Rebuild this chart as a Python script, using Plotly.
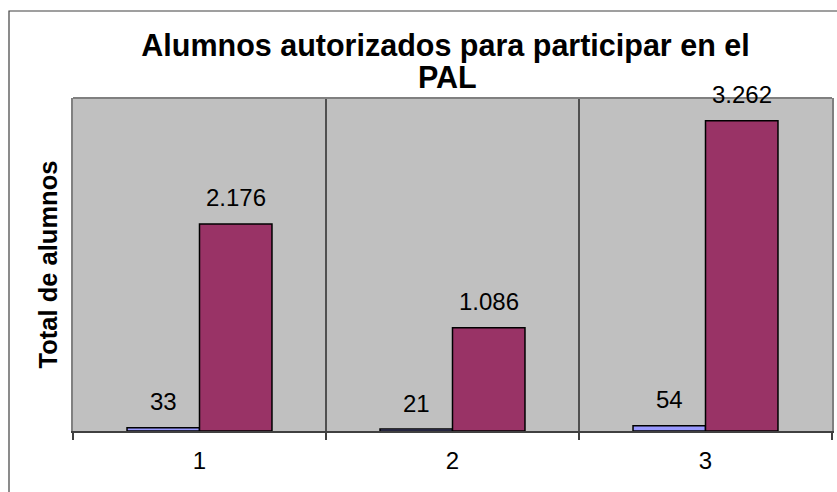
import plotly.graph_objects as go

categories = [1, 2, 3]
tick_labels = ["1", "2", "3"]
serie_a = [33, 21, 54]
serie_b = [2176, 1086, 3262]
labels_a = ["33", "21", "54"]
labels_b = ["2.176", "1.086", "3.262"]

W, H = 837, 492
ML, MR, MT, MB = 73, 5, 98, 61
PW, PH = W - ML - MR, H - MT - MB

BARGAP = 0.427
half = (1 - BARGAP) / 4  # centre offset of each bar in a group

fig = go.Figure()
fig.add_trace(go.Bar(x=categories, y=serie_a, name="A",
                     marker=dict(color="#9999FF", line=dict(color="black", width=1.5))))
fig.add_trace(go.Bar(x=categories, y=serie_b, name="B",
                     marker=dict(color="#993366", line=dict(color="black", width=1.5))))

font = "Liberation Sans, Arial, sans-serif"
annotations = []
for c, v, t in zip(categories, serie_a, labels_a):
    annotations.append(dict(x=c - half, y=v, text=t, showarrow=False, yshift=26,
                            yanchor="middle", font=dict(size=24, color="black", family=font)))
for c, v, t in zip(categories, serie_b, labels_b):
    annotations.append(dict(x=c + half, y=v, text=t, showarrow=False, yshift=26,
                            yanchor="middle", font=dict(size=24, color="black", family=font)))

def px_x(px):
    return (px - ML) / PW

def px_y(py):
    return (H - MB - py) / PH

annotations.append(dict(xref="paper", yref="paper", x=px_x(447), y=px_y(77),
                        text="<b>PAL</b>", showarrow=False, xanchor="center", yanchor="middle",
                        font=dict(size=30.5, color="black", family=font)))

shapes = [
    # outer chart border
    dict(type="rect", xref="paper", yref="paper", x0=px_x(9), x1=px_x(845),
         y0=px_y(500), y1=px_y(11), line=dict(color="#404040", width=1.2), layer="below"),
    # top border of plot area
    dict(type="line", xref="paper", yref="paper", x0=0, x1=1, y0=1, y1=1,
         line=dict(color="#808080", width=2)),
]

fig.update_layout(
    width=W, height=H,
    margin=dict(l=ML, r=MR, t=MT, b=MB, autoexpand=False),
    paper_bgcolor="white",
    plot_bgcolor="#C0C0C0",
    barmode="group", bargap=BARGAP, bargroupgap=0,
    showlegend=False,
    font=dict(family=font, color="black"),
    title=dict(text="<b>Alumnos autorizados para participar en el</b>",
               x=445.5 / W, xref="container", xanchor="center",
               y=1 - 45 / H, yref="container", yanchor="middle",
               font=dict(size=30.5, color="black", family=font)),
    annotations=annotations,
    shapes=shapes,
    xaxis=dict(range=[0.5, 3.5], tickvals=categories, ticktext=tick_labels,
               ticks="", showgrid=False, zeroline=False, automargin=False,
               showline=True, linecolor="#404040", linewidth=2,
               ticklabelstandoff=7,
               tickfont=dict(size=24, color="black", family=font),
               minor=dict(tick0=0.5, dtick=1, ticks="outside", ticklen=7,
                          tickcolor="#404040", tickwidth=1.5,
                          showgrid=True, gridcolor="#505050", gridwidth=1.5)),
    yaxis=dict(range=[0, 3500], showticklabels=False, ticks="", showgrid=False,
               zeroline=False, showline=True, linecolor="#808080", linewidth=2,
               mirror=True, automargin=False,
               title=dict(text="<b>Total de alumnos</b>", standoff=6,
                          font=dict(size=25.5, color="black", family=font))),
)

fig.write_html("out.html", config={"displayModeBar": False},
               post_script="document.body.style.margin='0';document.body.style.overflow='hidden';")
